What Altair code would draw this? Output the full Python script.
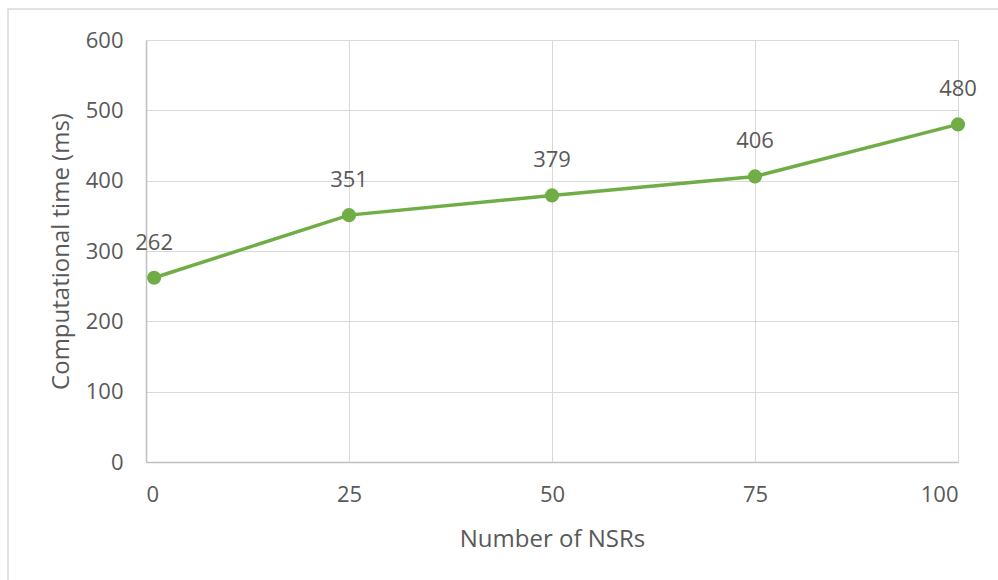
import altair as alt
import pandas as pd

nsrs = [1, 25, 50, 75, 100]
times = [262, 351, 379, 406, 480]
x_ticks = [0, 25, 50, 75, 100]
y_ticks = [0, 100, 200, 300, 400, 500, 600]

df = pd.DataFrame({"nsrs": nsrs, "time": times})

FONT = "Open Sans"
GREEN = "#70ad47"
TXT = "#595959"

x = alt.X("nsrs:Q", scale=alt.Scale(domain=[0, 100], nice=False, zero=False),
          axis=alt.Axis(values=x_ticks, title="Number of NSRs", grid=True,
                        gridColor="#d9d9d9", domainColor="#bfbfbf", domainWidth=1.5,
                        ticks=False, labelPadding=22, labelFontSize=22,
                        labelColor=TXT, titleColor=TXT, titleFontSize=24,
                        titleFontWeight="normal", titlePadding=22,
                        labelFont=FONT, titleFont=FONT))
y = alt.Y("time:Q", scale=alt.Scale(domain=[0, 600], nice=False),
          axis=alt.Axis(values=y_ticks, title="Computational time (ms)", grid=True,
                        gridColor="#d9d9d9", domainColor="#bfbfbf", domainWidth=1.5,
                        ticks=False, labelPadding=23, labelFontSize=22,
                        labelColor=TXT, titleColor=TXT, titleFontSize=24,
                        titleFontWeight="normal", titlePadding=12,
                        labelFont=FONT, titleFont=FONT))

border = alt.Chart(pd.DataFrame({"a": [0]})).mark_rect(
    fill=None, stroke="#d9d9d9", strokeWidth=1.5, clip=False
).encode(x=alt.value(-138), x2=alt.value(880), y=alt.value(-31), y2=alt.value(580))

base = alt.Chart(df)
line = base.mark_line(color=GREEN, strokeWidth=3.5).encode(x=x, y=y)
pts = base.mark_point(filled=True, color=GREEN, size=200, opacity=1).encode(x=x, y=y)
labels = base.mark_text(dy=-35, fontSize=22, color=TXT, font=FONT).encode(
    x=x, y=y, text="time:Q")

chart = alt.layer(border, line, pts, labels).properties(
    width=812, height=422,
    autosize=alt.AutoSizeParams(type="none"),
    padding={"left": 146, "top": 40, "right": 40, "bottom": 118},
).configure_view(stroke=None).configure(background="white")

chart.save("out.html", embed_options={"renderer": "svg", "actions": False})
